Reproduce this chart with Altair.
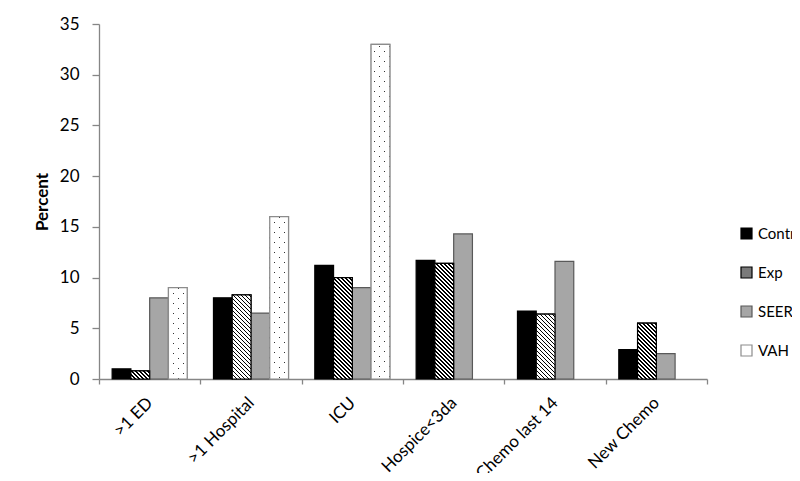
import altair as alt
import pandas as pd

# ---------------- data ----------------
categories = [">1 ED", ">1 Hospital", "ICU", "Hospice<3da", "Chemo last 14", "New Chemo"]
series = ["Control", "Exp", "SEER", "VAH"]
control = [1.0, 8.0, 11.2, 11.7, 6.7, 2.9]
exp = [0.8, 8.3, 10.0, 11.4, 6.4, 5.5]
seer = [8.0, 6.5, 9.0, 14.3, 11.6, 2.5]
vah = [9.0, 16.0, 33.0, None, None, None]

rows = []
for s, vals in zip(series, [control, exp, seer, vah]):
    for c, v in zip(categories, vals):
        if v is not None:
            rows.append({"category": c, "series": s, "value": v})
df = pd.DataFrame(rows)

# ---------------- layout / style ----------------
W, H = 608, 355
YMAX = 35
PAD_OUTER = 0.7
FONT = "Lato"
FS = 17
band = W / len(categories)
bar_w = band / (len(series) + 2 * PAD_OUTER)
px_per_unit = H / YMAX

fill_range = ["#000000", "#7a7a7a", "#a6a6a6", "#ffffff"]
stroke_range = ["#000000", "#000000", "#595959", "#8c8c8c"]


def diag_gradient(w, h, period, ink_w, ink, paper, rising=False):
    """Stripe gradient whose stripes run at 45 degrees in pixel space."""
    L = w + h
    s = (w + h) * h / (w * w + h * h)
    stops = []
    k = 0
    while k * period < L:
        a = k * period / L
        b = min((k * period + ink_w) / L, 1.0)
        e = min((k + 1) * period / L, 1.0)
        stops += [alt.GradientStop(color=ink, offset=a),
                  alt.GradientStop(color=ink, offset=b),
                  alt.GradientStop(color=paper, offset=b),
                  alt.GradientStop(color=paper, offset=e)]
        k += 1
    if rising:
        x1, y1, x2, y2 = 0, 0, s * w / h, s
    else:
        x1, y1, x2, y2 = 0, 1, s * w / h, 1 - s
    return alt.LinearGradient(gradient="linear", stops=stops,
                              x1=x1, y1=y1, x2=x2, y2=y2)


x_enc = alt.X("category:N", sort=categories,
              scale=alt.Scale(domain=categories, paddingInner=0, paddingOuter=0),
              axis=alt.Axis(title=None, labelAngle=-45, labelAlign="right",
                            labelBaseline="middle", labelPadding=16,
                            tickBand="extent", tickSize=5, labelFontSize=FS))
xo_enc = alt.XOffset("series:N",
                     scale=alt.Scale(domain=series, paddingInner=0, paddingOuter=PAD_OUTER))
y_enc = alt.Y("value:Q", scale=alt.Scale(domain=[0, YMAX], nice=False),
              axis=alt.Axis(title="Percent", values=list(range(0, YMAX + 1, 5)),
                            grid=False, tickSize=7, labelPadding=13,
                            titlePadding=8, titleFontSize=FS, titleFontWeight="bold",
                            labelFontSize=FS))

legend_kw = dict(title=None, orient="none", legendX=640, legendY=202,
                 symbolType="square", symbolSize=121, labelFontSize=15,
                 labelFont=FONT, rowPadding=22, labelOffset=4, padding=0,
                 symbolStrokeWidth=1.2, labelColor="#000000")

base = alt.Chart(df).mark_bar(strokeWidth=1.2).encode(
    x=x_enc, xOffset=xo_enc, y=y_enc,
    fill=alt.Fill("series:N", scale=alt.Scale(domain=series, range=fill_range),
                  legend=alt.Legend(**legend_kw)),
    stroke=alt.Stroke("series:N", scale=alt.Scale(domain=series, range=stroke_range),
                      legend=alt.Legend(**legend_kw)),
)

layers = [base]

# hatching on the Exp bars
for c, v in zip(categories, exp):
    h = v * px_per_unit
    g = diag_gradient(bar_w, h, 4.0, 1.6, "#000000", "#ffffff")
    layers.append(
        alt.Chart(df).transform_filter(
            (alt.datum.series == "Exp") & (alt.datum.category == c)
        ).mark_bar(fill=g, stroke="#000000", strokeWidth=1.2).encode(
            x=x_enc, xOffset=xo_enc, y=y_enc)
    )

# dotted pattern on the VAH bars
for c, v in zip(categories, vah):
    if v is None:
        continue
    h = v * px_per_unit
    g_lines = diag_gradient(bar_w, h, 10.0, 1.5, "#303030", "#ffffff")
    g_mask = diag_gradient(bar_w, h, 10.0, 1.5, "rgba(255,255,255,0)", "#ffffff",
                           rising=True)
    flt = (alt.datum.series == "VAH") & (alt.datum.category == c)
    layers.append(
        alt.Chart(df).transform_filter(flt).mark_bar(
            fill=g_lines, strokeWidth=0).encode(x=x_enc, xOffset=xo_enc, y=y_enc)
    )
    layers.append(
        alt.Chart(df).transform_filter(flt).mark_bar(
            fill=g_mask, stroke="#8c8c8c", strokeWidth=1.2).encode(
            x=x_enc, xOffset=xo_enc, y=y_enc)
    )

chart = alt.layer(*layers).properties(
    width=W, height=H,
    autosize=alt.AutoSizeParams(type="none"),
    padding={"left": 91, "top": 16, "right": 85, "bottom": 94},
    background="#ffffff",
).configure_view(stroke=None).configure_axis(
    labelFont=FONT, titleFont=FONT, labelColor="#000000", titleColor="#000000",
    domainColor="#868686", tickColor="#868686", domainWidth=1.3, tickWidth=1.3,
).configure_legend(labelFont=FONT)

chart.save("out.html", embed_options={"renderer": "svg", "actions": False})
